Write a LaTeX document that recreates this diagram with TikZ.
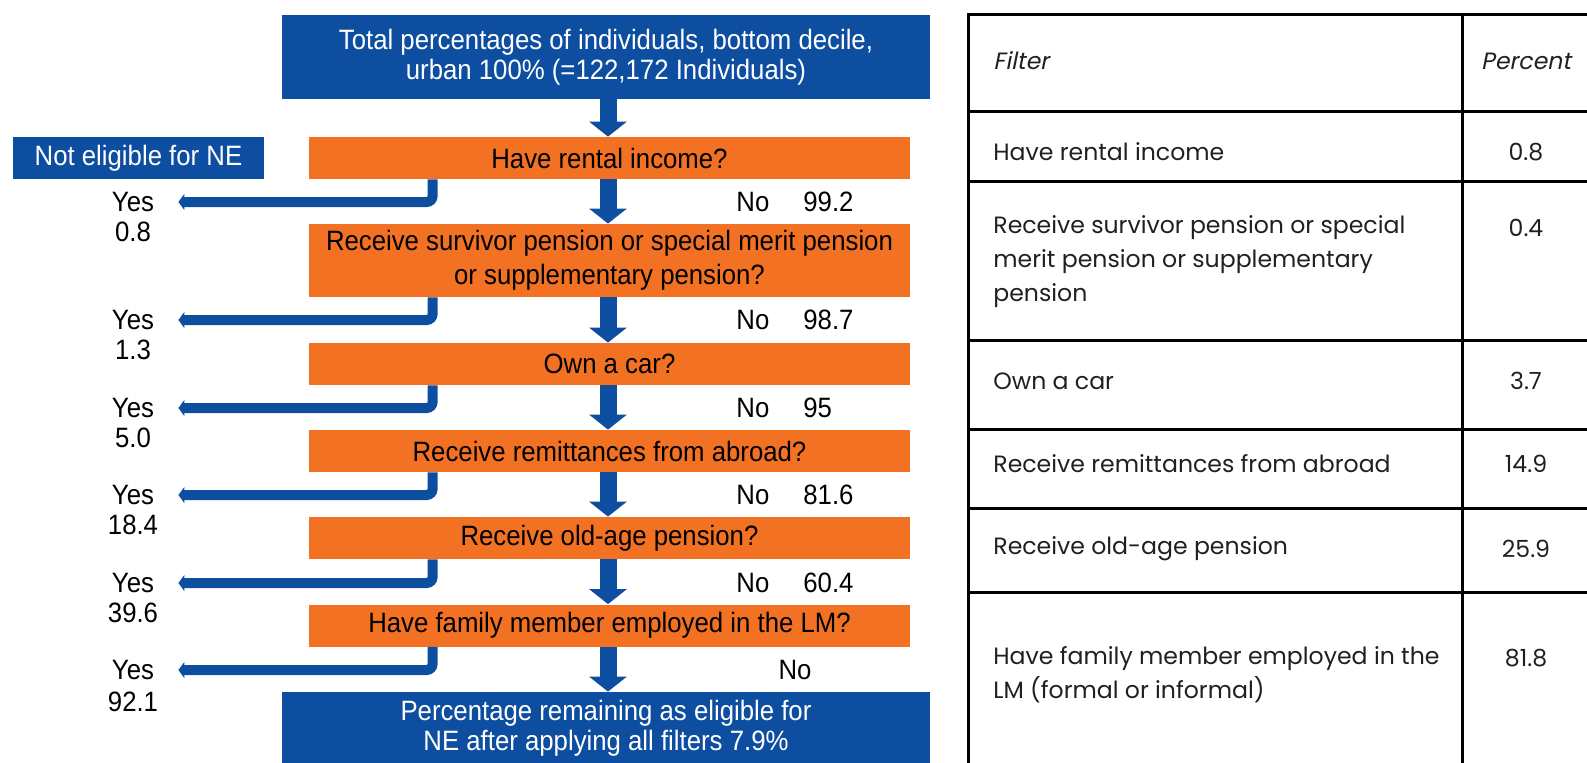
\documentclass[tikz,border=0pt]{standalone}
\usepackage{fontspec}
\setmainfont{Liberation Sans}
\newfontfamily\flowfont[FakeStretch=0.92]{Liberation Sans}
\newfontfamily\tabfont{Poppins}
\newfontfamily\tabitfont[FakeSlant=0.2]{Poppins}
\usetikzlibrary{arrows.meta,positioning}
\definecolor{wbblue}{RGB}{13,78,160}
\definecolor{wborange}{RGB}{242,113,35}
\definecolor{tabtext}{RGB}{35,31,32}
\begin{document}
\begin{tikzpicture}[
            x=0.5pt, y=-0.5pt,
            every node/.style={inner sep=0pt},
            bluebox/.style={fill=wbblue, text=white, align=center, font=\flowfont\fontsize{14pt}{15pt}\selectfont},
            qbox/.style={fill=wborange, text=black, minimum width=300.5pt, minimum height=21pt, align=center, font=\flowfont\fontsize{14pt}{17pt}\selectfont},
            lbl/.style={font=\flowfont\fontsize{14pt}{15pt}\selectfont},
            mainarrow/.style={draw=wbblue, line width=8.5pt, -{Triangle[width=18.5pt,length=7.5pt]}},
            yesarrow/.style={draw=wbblue, line width=5pt, rounded corners=3pt, -{Triangle[width=8pt,length=3pt]}},
            tabline/.style={draw=black, line width=1.5pt},
            cell/.style={anchor=west, align=left, text=tabtext, font=\tabfont\fontsize{11.8pt}{17pt}\selectfont},
            val/.style={text=tabtext, font=\tabfont\fontsize{11.8pt}{17pt}\selectfont}
            ]
            \useasboundingbox (0,0) rectangle (1587,762);
            % flow chart
            \node[bluebox, minimum width=324pt, minimum height=42pt] (top) at (606,57)
              {Total percentages of individuals, bottom decile,\\ urban 100\% (=122,172 Individuals)};
            \node[bluebox, minimum width=125.5pt, minimum height=21pt] (ne) at (138.5,158) {Not eligible for NE};
            \node[qbox] (q1) at (609.5,158) {Have rental income?};
            \node[qbox, minimum height=36.5pt] (q2) at (609.5,260.5)
              {Receive survivor pension or special merit pension\\ or supplementary pension?};
            \node[qbox] (q3) at (609.5,364) {Own a car?};
            \node[qbox] (q4) at (609.5,451) {Receive remittances from abroad?};
            \node[qbox] (q5) at (609.5,538) {Receive old-age pension?};
            \node[qbox] (q6) at (609.5,625.5) {Have family member employed in the LM?};
            \node[bluebox, minimum width=324pt, minimum height=36pt] (bottom) at (606,728)
              {Percentage remaining as eligible for\\ NE after applying all filters 7.9\%};
            \foreach \a/\b in {top/q1,q1/q2,q2/q3,q3/q4,q4/q5,q5/q6,q6/bottom}
              \draw[mainarrow] (\a.south -| 608,0) -- (\b.north -| 608,0);
            \foreach \i/\y/\yes/\no in {1/202/0.8/99.2, 2/320/1.3/98.7, 3/408/5.0/95,
                                        4/495/18.4/81.6, 5/583/39.6/60.4}{
              \node[lbl] (yes\i) at (133,\y) {Yes};
              \node[lbl] (yv\i) at (133,\y+30) {\yes};
              \node[lbl, anchor=west] (no\i) at (736,\y) {No};
              \node[lbl, anchor=west] (nv\i) at (803,\y) {\no};
              \draw[yesarrow] ([xshift=62pt]q\i.south west) |- ([xshift=12pt]yes\i.east);
            }
            \node[lbl] (yes6) at (133,670) {Yes};
            \node[lbl] (yv6) at (133,702) {92.1};
            \node[lbl] (no6) at (795,670) {No};
            \draw[yesarrow] ([xshift=62pt]q6.south west) |- ([xshift=12pt]yes6.east);
            % table
            \draw[tabline] (1600,14) -- (968,14) -- (968,780);
            \draw[tabline] (1462,14) -- (1462,780);
            \foreach \y in {111,181,340,429,508,592}
              \draw[tabline] (968,\y) -- (1600,\y);
            \node[cell, font=\tabitfont\fontsize{11.8pt}{17pt}\selectfont] (hfilter) at (993,61) {Filter};
            \node[val, font=\tabitfont\fontsize{11.8pt}{17pt}\selectfont] (hpercent) at (1526,61) {Percent};
            \node[cell] (f1) at (993,152) {Have rental income};
            \node[cell] (f2) at (993,262) {Receive survivor pension or special\\ merit pension or supplementary\\ pension};
            \node[cell] (f3) at (993,381) {Own a car};
            \node[cell] (f4) at (993,464) {Receive remittances from abroad};
            \node[cell] (f5) at (993,549) {Receive old-age pension};
            \node[cell] (f6) at (993,675) {Have family member employed in the\\ LM (formal or informal)};
            \foreach \i/\y/\p in {1/152/0.8, 2/228/0.4, 3/381/3.7, 4/464/14.9, 5/549/25.9, 6/658/81.8}
              \node[val] (p\i) at (1526,\y) {\p};
        \end{tikzpicture}
\end{document}
